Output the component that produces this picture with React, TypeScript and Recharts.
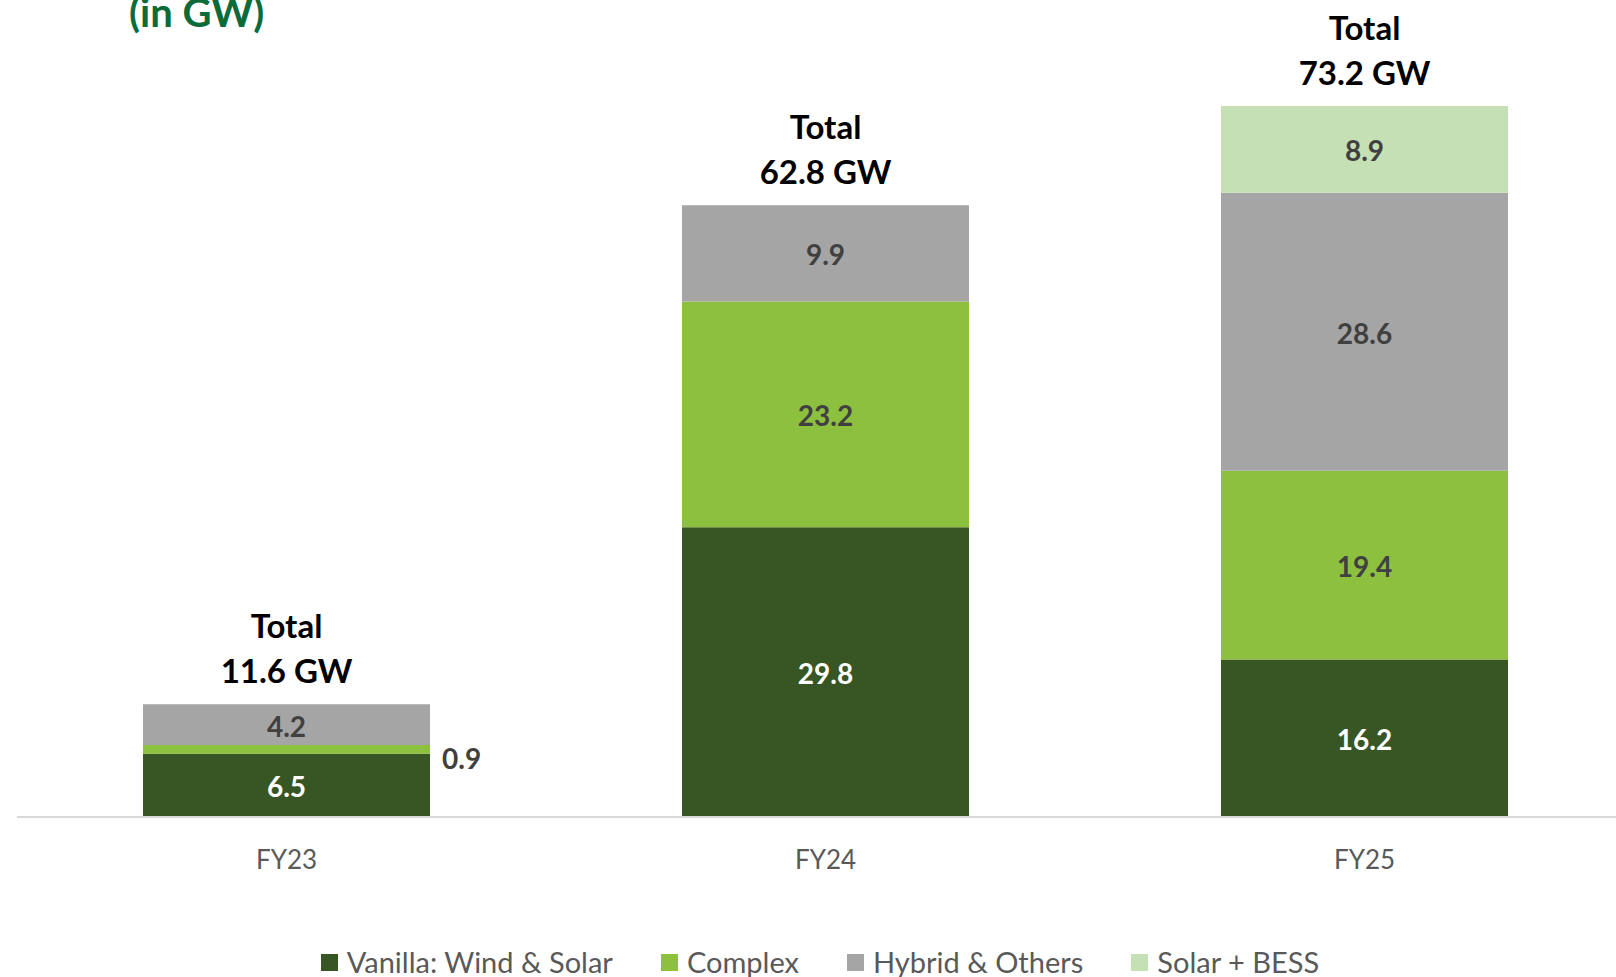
import { BarChart, Bar, XAxis, YAxis, Legend, LabelList } from 'recharts';

const categories = ['FY23', 'FY24', 'FY25'];
const vanilla = [6.5, 29.8, 16.2];
const complex = [0.9, 23.2, 19.4];
const hybrid = [4.2, 9.9, 28.6];
const solarBess = [0, 0, 8.9];
const totals = [11.6, 62.8, 73.2];

const seriesNames = ['Vanilla: Wind & Solar', 'Complex', 'Hybrid & Others', 'Solar + BESS'];
const colors = ['#375623', '#8DC03F', '#A5A5A5', '#C5E0B4'];

const data = categories.map((name, i) => ({
  name,
  vanilla: vanilla[i],
  complex: complex[i],
  hybrid: hybrid[i],
  solarBess: solarBess[i],
  total: totals[i],
}));

const FONT = 'Lato, "Open Sans", sans-serif';

// value label inside the segment; thin segments get it on the right
function segmentLabel(fill: string) {
  return (props: any) => {
    const { x, y, width, height, value } = props;
    if (!value) return null;
    if (height < 20) {
      return (
        <text x={x + width + 12} y={y + height / 2 + 20} fill="#404040" fontSize={28} fontWeight={700} fontFamily={FONT}>
          {Number(value).toFixed(1)}
        </text>
      );
    }
    return (
      <text x={x + width / 2} y={y + height / 2 + 12} textAnchor="middle" fill={fill} fontSize={28} fontWeight={700} fontFamily={FONT}>
        {Number(value).toFixed(1)}
      </text>
    );
  };
}

const totalLabel = (props: any) => {
  const { x, y, width, value } = props;
  if (value == null) return null;
  const cx = x + width / 2;
  return (
    <g fontFamily={FONT} fontWeight={700} fontSize={33} fill="#000" textAnchor="middle">
      <text x={cx} y={y - 66}>Total</text>
      <text x={cx} y={y - 21}>{`${Number(value).toFixed(1)} GW`}</text>
    </g>
  );
};

// the total sits on whichever segment is the top one
const totalOnHybrid = (d: any) => (d.solarBess ? null : d.total);
const totalOnSolar = (d: any) => (d.solarBess ? d.total : null);

const renderLegend = () => (
  <div style={{ display: 'flex', justifyContent: 'center', gap: 48, fontFamily: FONT, fontSize: 29, color: '#595959', lineHeight: '36px' }}>
    {seriesNames.map((n, i) => (
      <div key={n} style={{ display: 'flex', alignItems: 'center', whiteSpace: 'nowrap' }}>
        <span style={{ display: 'inline-block', width: 17, height: 17, background: colors[i], marginRight: 9 }} />
        {n}
      </div>
    ))}
  </div>
);

export default function App() {
  return (
    <div style={{ position: 'absolute', left: 0, top: 0, width: 1616, height: 977, overflow: 'hidden', background: '#fff' }}>
      <div style={{ position: 'absolute', left: 129, top: -12, fontFamily: FONT, fontWeight: 700, fontSize: 40, color: '#0B6B3A', whiteSpace: 'nowrap' }}>
        (in GW)
      </div>
      <BarChart width={1640} height={977} data={data} margin={{ top: 39, right: 6, left: 17, bottom: 100 }}>
        <XAxis
          dataKey="name"
          height={60}
          axisLine={{ stroke: '#D9D9D9', strokeWidth: 2 }}
          tickLine={false}
          tickSize={6}
          tickMargin={28}
          tick={{ fontSize: 26, fill: '#595959', fontFamily: FONT }}
        />
        <YAxis hide domain={[0, 80]} />
        <Legend
          layout="horizontal"
          verticalAlign="middle"
          align="center"
          content={renderLegend}
          wrapperStyle={{ left: 0, top: 944, width: 1640 }}
        />
        <Bar dataKey="vanilla" stackId="a" fill={colors[0]} barSize={287} isAnimationActive={false}>
          <LabelList dataKey="vanilla" content={segmentLabel('#FFFFFF')} />
        </Bar>
        <Bar dataKey="complex" stackId="a" fill={colors[1]} barSize={287} isAnimationActive={false}>
          <LabelList dataKey="complex" content={segmentLabel('#404040')} />
        </Bar>
        <Bar dataKey="hybrid" stackId="a" fill={colors[2]} barSize={287} isAnimationActive={false}>
          <LabelList dataKey="hybrid" content={segmentLabel('#404040')} />
          <LabelList dataKey={totalOnHybrid} content={totalLabel} />
        </Bar>
        <Bar dataKey="solarBess" stackId="a" fill={colors[3]} barSize={287} isAnimationActive={false}>
          <LabelList dataKey="solarBess" content={segmentLabel('#404040')} />
          <LabelList dataKey={totalOnSolar} content={totalLabel} />
        </Bar>
      </BarChart>
    </div>
  );
}
